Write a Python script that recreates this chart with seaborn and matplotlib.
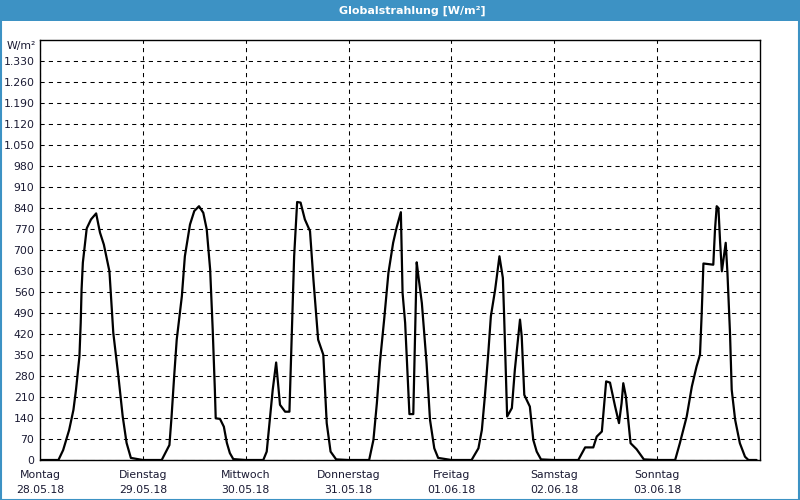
import matplotlib
matplotlib.use("Agg")
import matplotlib.pyplot as plt
import matplotlib.patches as mpatches
from matplotlib.ticker import FuncFormatter, FixedLocator
import seaborn as sns
import pandas as pd

# ---- data (hour of day, W/m²) ----
day_names = ["Montag", "Dienstag", "Mittwoch", "Donnerstag", "Freitag", "Samstag", "Sonntag"]
day_dates = ["28.05.18", "29.05.18", "30.05.18", "31.05.18", "01.06.18", "02.06.18", "03.06.18"]

mon_h = [0, 4.3, 5.4, 6.8, 7.8, 8.4, 9.2, 9.5, 9.7, 10.0, 10.9, 11.9, 13.1, 14.0, 14.9, 16.2, 17.1, 18.3, 19.3, 20.2, 21.2]
mon_v = [0, 0, 33, 100, 167, 234, 345, 457, 568, 658, 772, 802, 822, 758, 718, 629, 424, 278, 145, 57, 7]

tue_h = [0, 4.4, 6.2, 6.7, 7.3, 7.9, 9.1, 9.8, 11.0, 12.0, 13.1, 14.1, 14.9, 15.7, 16.3, 16.8, 17.0, 18.0, 18.9, 19.6, 20.3, 21.1]
tue_v = [0, 0, 50, 145, 278, 401, 546, 679, 785, 830, 846, 824, 769, 635, 434, 234, 139, 137, 111, 57, 23, 3]

wed_h = [0, 4.1, 4.9, 5.7, 6.3, 7.1, 8.0, 9.2, 10.2, 10.7, 11.3, 12.0, 12.8, 13.8, 15.0, 15.8, 16.9, 18.1, 18.9, 19.8, 21.1]
wed_v = [0, 0, 28, 145, 234, 325, 184, 161, 161, 401, 679, 860, 858, 802, 763, 601, 401, 351, 123, 28, 2]

thu_h = [0, 4.8, 5.8, 6.6, 7.3, 8.3, 9.3, 10.4, 11.2, 12.2, 12.6, 13.2, 14.2, 15.1, 15.5, 15.9, 16.3, 17.1, 18.2, 19.0, 20.0, 20.9]
thu_v = [0, 0, 67, 189, 323, 468, 624, 724, 774, 826, 557, 457, 153, 153, 412, 659, 612, 523, 323, 134, 39, 7]

fri_h = [0, 4.7, 6.3, 7.1, 7.8, 8.6, 9.2, 10.2, 11.2, 12.0, 12.3, 13.0, 14.1, 14.8, 16.0, 16.4, 17.0, 18.3, 19.1, 19.9, 20.9]
fri_v = [0, 0, 39, 100, 212, 356, 479, 568, 679, 607, 479, 145, 173, 301, 468, 412, 217, 178, 67, 28, 2]

sat_h = [0, 5.6, 7.2, 9.1, 9.9, 11.1, 12.1, 13.0, 14.2, 15.1, 15.7, 16.1, 16.7, 17.8, 19.2, 20.9]
sat_v = [0, 0, 42, 42, 78, 95, 262, 258, 178, 123, 189, 256, 212, 56, 36, 2]

sun_h = [0, 4.2, 5.3, 6.9, 8.1, 9.2, 10.0, 10.4, 10.8, 13.1, 13.5, 13.9, 14.3, 14.7, 15.1, 16.0, 16.4, 17.0, 17.4, 18.2, 19.3, 20.5, 21.3, 23.2]
sun_v = [0, 0, 56, 145, 245, 312, 351, 490, 655, 651, 768, 846, 840, 724, 629, 724, 624, 423, 234, 134, 56, 11, 0, 0]

y_ticks = list(range(0, 1331, 70))

days_h = [mon_h, tue_h, wed_h, thu_h, fri_h, sat_h, sun_h]
days_v = [mon_v, tue_v, wed_v, thu_v, fri_v, sat_v, sun_v]
rows = []
for d, (hh, vv) in enumerate(zip(days_h, days_v)):
    for h, v in zip(hh, vv):
        rows.append({"t": d * 24 + h, "v": v})
df = pd.DataFrame(rows)

# ---- figure ----
sns.set_style("white")
plt.rcParams["font.family"] = ["DejaVu Sans"]

fig = plt.figure(figsize=(8, 5), dpi=100)
fig.patch.set_facecolor("white")
ax = fig.add_axes([0.05, 0.08, 0.90, 0.84])

sns.lineplot(data=df, x="t", y="v", ax=ax, color="black", linewidth=1.6,
             estimator=None, sort=False)

ax.set_xlim(0, 168)
ax.set_ylim(0, 1400)
ax.set_xlabel("")
ax.set_ylabel("")

fs = 7.8
ax.yaxis.set_major_locator(FixedLocator(y_ticks))
ax.yaxis.set_major_formatter(FuncFormatter(lambda v, p: f"{int(v):,}".replace(",", ".")))
ax.set_xticks([d * 24 for d in range(7)])
ax.set_xticklabels([f"{n}\n{dt}" for n, dt in zip(day_names, day_dates)], linespacing=1.6)

txt_col = "#1a1a33"
ax.tick_params(axis="y", length=0, pad=4, labelsize=fs, labelcolor=txt_col)
ax.tick_params(axis="x", length=3, width=0.8, pad=4, labelsize=fs, labelcolor=txt_col, color="black")

ax.grid(True, color="black", linestyle=(0, (4, 4)), linewidth=0.75)
for s in ax.spines.values():
    s.set_color("black")
    s.set_linewidth(1.0)
    s.set_visible(True)

# unit label
fig.text(36 / 800, 1 - 46 / 500, "W/m²", fontsize=fs, color=txt_col, ha="right", va="center")

# title bar
bar_col = "#3d92c4"
fig.patches.append(mpatches.Rectangle((0, 1 - 21 / 500), 1, 21 / 500, transform=fig.transFigure,
                                      facecolor=bar_col, edgecolor="none", zorder=0))
fig.text(412 / 800, 1 - 10.5 / 500, "Globalstrahlung [W/m²]", fontsize=8, fontweight="bold",
         color="white", ha="center", va="center")
# outer border
fig.patches.append(mpatches.Rectangle((0.5 / 800, 0.5 / 500), 1 - 1.5 / 800, 1 - 1 / 500,
                                      transform=fig.transFigure, facecolor="none",
                                      edgecolor=bar_col, linewidth=1.5, zorder=0))

fig.savefig("out.png", dpi=100, facecolor="white")
